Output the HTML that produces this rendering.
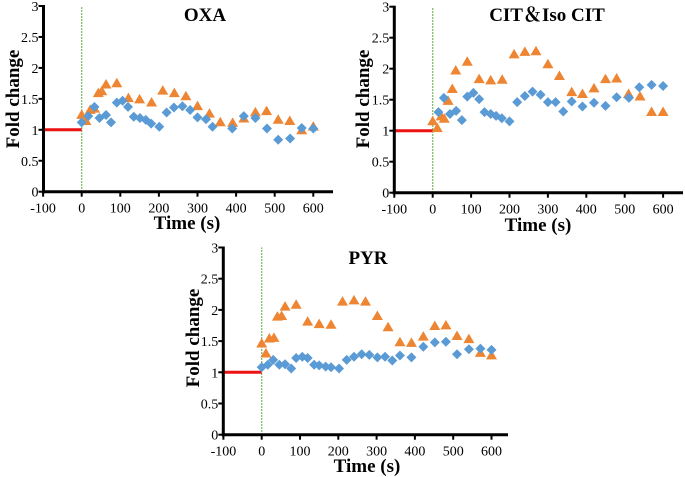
<!DOCTYPE html>
<html><head><meta charset="utf-8"><style>
body{margin:0;background:#fff;}
svg{display:block;font-family:"Liberation Serif","Noto Serif CJK SC",serif;}
</style></head><body>
<svg id="chart" width="685" height="477" viewBox="0 0 685 477"></svg>
<script>
const times = [0,15,30,45,60,75,90,105,120,135,150,165,180,200,220,240,260,280,300,320,340,360,390,420,450,480,510,540,570,600];
const triTimes = [0,10,20,30,40,50,60,90,120,150,180,210,240,270,300,330,360,390,420,450,480,510,540,570,600];
const oxaBlueT = [0,17,33,46,63,76,91,106,120,135,151,166,180,201,220,239,261,281,300,322,339,390,420,450,480,509,540,570,600];
const oxaBlue = [1.12,1.22,1.37,1.19,1.24,1.12,1.44,1.47,1.37,1.21,1.19,1.16,1.10,1.05,1.28,1.36,1.38,1.32,1.20,1.17,1.05,1.02,1.22,1.19,1.02,0.84,0.86,1.03,1.02];
const oxaOrangeT = [0,11,22,33,43,52,63,91,121,150,181,210,240,270,300,331,359,391,420,450,479,509,539,570,600];
const oxaOrange = [1.25,1.15,1.33,1.35,1.60,1.63,1.74,1.76,1.52,1.50,1.45,1.64,1.60,1.55,1.39,1.27,1.13,1.12,1.19,1.29,1.31,1.17,1.15,1.00,1.06];
const citBlueT = [15,29,45,61,76,90,106,121,135,151,165,180,200,220,240,260,281,300,320,340,362,390,420,450,479,511,538,570,600];
const citBlue = [1.30,1.53,1.27,1.32,1.17,1.55,1.61,1.51,1.30,1.27,1.24,1.20,1.15,1.46,1.56,1.63,1.58,1.46,1.46,1.31,1.47,1.39,1.45,1.40,1.54,1.53,1.70,1.74,1.72];
const citOrangeT = [0,12,22,30,40,51,60,90,121,151,181,212,240,269,300,330,362,390,420,450,479,510,540,570,600];
const citOrange = [1.16,1.05,1.24,1.20,1.49,1.68,1.98,2.12,1.84,1.82,1.83,2.24,2.28,2.29,2.08,1.89,1.63,1.60,1.69,1.84,1.85,1.60,1.56,1.31,1.31];
const pyrBlueT = [0,16,30,46,61,77,90,106,120,137,150,167,181,202,222,241,261,281,302,322,341,361,391,422,452,481,510,541,571,600];
const pyrBlue = [1.08,1.12,1.20,1.12,1.13,1.06,1.23,1.25,1.23,1.12,1.11,1.09,1.08,1.06,1.20,1.25,1.29,1.28,1.24,1.25,1.19,1.27,1.24,1.41,1.48,1.49,1.29,1.37,1.38,1.36];
const pyrOrangeT = [0,11,20,32,41,52,61,90,120,150,181,211,241,271,302,330,361,391,422,452,481,510,541,571,600];
const pyrOrange = [1.47,1.31,1.55,1.56,1.90,1.91,2.06,2.09,1.82,1.78,1.77,2.14,2.16,2.14,1.91,1.73,1.49,1.48,1.58,1.75,1.76,1.59,1.54,1.32,1.28];
const xTicks = [-100,0,100,200,300,400,500,600];
const yTicks = [0,0.5,1,1.5,2,2.5,3];
const yTickLabels = ["0","0.5","1","1.5","2","2.5","3"];

const panels = [
 {name:"oxa",title:"OXA",ax:43.5,x0:81.7,px100:38.6,y0:191.7,unit:61.9,xend:333,tx:205,ty:21,ylx:13,yly:99,xlx:187,xly:229,bt:oxaBlueT,b:oxaBlue,ot:oxaOrangeT,o:oxaOrange},
 {name:"cit",title:"CIT\uFF06Iso CIT",ax:394.3,x0:432.7,px100:38.4,y0:192.7,unit:62,xend:683,tx:547,ty:21,ylx:363,yly:99,xlx:538,xly:231,bt:citBlueT,b:citBlue,ot:citOrangeT,o:citOrange},
 {name:"pyr",title:"PYR",ax:223.3,x0:261.7,px100:38.3,y0:434.7,unit:62.4,xend:508,tx:368,ty:264,ylx:193,yly:338,xlx:367,xly:472,bt:pyrBlueT,b:pyrBlue,ot:pyrOrangeT,o:pyrOrange}
];
const svg=document.getElementById('chart');
const NS="http://www.w3.org/2000/svg";
function mk(tag,attrs,parent){const e=document.createElementNS(NS,tag);for(const k in attrs)e.setAttribute(k,attrs[k]);(parent||svg).appendChild(e);return e;}
panels.forEach(p=>{
 const X=v=>p.x0+v*p.px100/100, Y=v=>p.y0-v*p.unit;
 const g=mk('g',{});
 
 
 const gl=mk('line',{x1:X(0),x2:X(0),y1:Y(0),y2:Y(3),stroke:'#5aa83a','stroke-width':1.3,'stroke-dasharray':'1.5,1.5'},g);
 
 
 const rl=mk('line',{x1:X(-100),x2:X(0),y1:Y(1),y2:Y(1),stroke:'#ee1111','stroke-width':3},g);
 
 
 const ya=mk('line',{x1:p.ax,x2:p.ax,y1:Y(3)-1,y2:Y(0)+1.5,stroke:'#000','stroke-width':3},g);
 
 
 const xa=mk('line',{x1:p.ax-1.5,x2:p.xend,y1:Y(0),y2:Y(0),stroke:'#000','stroke-width':3},g);
 
 
 yTicks.forEach((t,i)=>{
  mk('line',{x1:p.ax-5,x2:p.ax,y1:Y(t),y2:Y(t),stroke:'#000','stroke-width':2},g);
  const tl=mk('text',{x:p.ax-5,y:Y(t)+5,'text-anchor':'end','font-size':14},g);
  tl.textContent=yTickLabels[i];
  
  
 });
 xTicks.forEach(t=>{
  mk('line',{x1:X(t),x2:X(t),y1:Y(0),y2:Y(0)+5,stroke:'#000','stroke-width':2},g);
  const tl=mk('text',{x:X(t),y:Y(0)+21,'text-anchor':'middle','font-size':14},g);
  tl.textContent=String(t);
  
  
 });
 p.ot.forEach((t,i)=>{
  const cx=X(t),cy=Y(p.o[i]);
  const m=mk('polygon',{points:`${cx},${cy-5} ${cx+5.5},${cy+4.5} ${cx-5.5},${cy+4.5}`,fill:'#ee8533'},g);
  
  
 });
 p.bt.forEach((t,i)=>{
  const cx=X(t),cy=Y(p.b[i]);
  const m=mk('polygon',{points:`${cx},${cy-5} ${cx+5},${cy} ${cx},${cy+5} ${cx-5},${cy}`,fill:'#5b9bd5'},g);
  
  
 });
 const ti=mk('text',{x:p.tx,y:p.ty,'text-anchor':'middle','font-size':19,'font-weight':'bold'},g);
 ti.textContent=p.title;
 
 
 const xl=mk('text',{x:p.xlx,y:p.xly,'text-anchor':'middle','font-size':19,'font-weight':'bold'},g);
 xl.textContent='Time (s)';
 
 
 const yl=mk('text',{x:p.ylx,y:p.yly,'text-anchor':'middle','font-size':19,'font-weight':'bold',transform:`rotate(-90 ${p.ylx} ${p.yly})`,dy:6},g);
 yl.textContent='Fold change';
 
 
});
</script>
</body></html>
